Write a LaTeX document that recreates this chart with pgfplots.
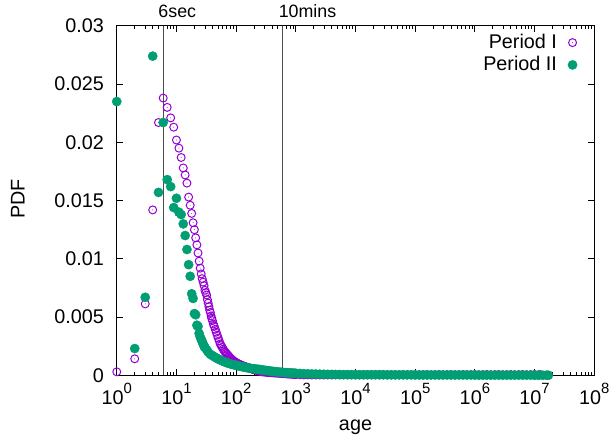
\documentclass[border=0pt]{standalone}
\usepackage{fontspec}
\setmainfont{Liberation Sans}
\usepackage{pgfplots}
\pgfplotsset{compat=1.18}
\definecolor{pI}{HTML}{9400D3}
\definecolor{pII}{HTML}{009E73}
\pgfdeclareplotmark{circdot}{%
  \pgfpathcircle{\pgfpointorigin}{\pgfplotmarksize}\pgfusepathqstroke
  \pgfpathcircle{\pgfpointorigin}{0.5pt}\pgfusepathqfill}
\newcommand\tp[1]{10\raisebox{0.55em}{\fontsize{15}{15}\selectfont #1}}
\begin{document}
\fontsize{20}{24}\selectfont
\begin{tikzpicture}
\begin{axis}[
  scale only axis, width=480.5bp, height=351.7bp,
  xmode=log, xmin=1, xmax=1e8, ymin=0, ymax=0.03,
  clip=false,
  axis line style={line width=0.9bp},
  xtick={1,10,100,1000,10000,100000,1000000,10000000,100000000},
  xticklabels={\tp{0},\tp{1},\tp{2},\tp{3},\tp{4},\tp{5},\tp{6},\tp{7},\tp{8}},
  ytick={0,0.005,0.01,0.015,0.02,0.025,0.03},
  yticklabels={0,0.005,0.01,0.015,0.02,0.025,0.03},
  scaled y ticks=false,
  tick align=inside, major tick length=6bp, minor tick length=3bp,
  tick style={line width=0.8bp, black},
  yticklabel style={xshift=-6bp},
  xticklabel style={yshift=-1bp},
  xlabel={age}, ylabel={PDF},
  xlabel style={at={(axis description cs:0.5,-0.1496)}, anchor=center},
  ylabel style={at={(axis description cs:-0.207,0.505)}, anchor=center},
  legend cell align=right, legend plot pos=right,
  legend style={at={(1,1)}, anchor=north east, draw=none, fill=none,
    xshift=-14bp, yshift=-4bp, row sep=1bp,
    /tikz/every odd column/.append style={column sep=9bp}},
]
\coordinate (bl) at (rel axis cs:0,0);
\coordinate (tr) at (rel axis cs:1,1);
\addplot[black!70, line width=0.8bp, forget plot] coordinates {(6,0) (6,0.03)};
\addplot[black!70, line width=0.8bp, forget plot] coordinates {(600,0) (600,0.03)};
\node[anchor=base west, font=\fontsize{18}{20}\selectfont, inner sep=0pt] at (axis cs:6,0.03) [xshift=-5bp, yshift=8bp] {6sec};
\node[anchor=base west, font=\fontsize{18}{20}\selectfont, inner sep=0pt] at (axis cs:600,0.03) [xshift=-4bp, yshift=8bp] {10mins};

\addplot[only marks, mark=circdot, mark size=4bp, color=pI, line width=1bp] coordinates {
(1,0.0003) (2,0.00142) (3,0.00613) (4,0.0142) (5,0.0217) (6,0.0238) (7,0.0230) (8,0.0221) (9,0.0213) (10,0.0202)
(11,0.0195) (12,0.0187) (13,0.0178) (14,0.0172) (15,0.0165) (16,0.0153) (17,0.0146) (18,0.0139) (19,0.0131) (20,0.0125)
(21,0.0118) (22,0.0112) (23,0.0105) (24,0.0098) (25,0.0092) (26,0.0087) (27,0.0083) (28,0.0080) (29,0.0077) (30,0.0073)
(31,0.0071) (32,0.0069) (33,0.0065) (34,0.0062) (35,0.0059) (36,0.0056) (37,0.0054) (38,0.0051) (39,0.0049) (40,0.0047)
(41.5,0.0044) (43,0.0042) (44.7,0.00395) (46.4,0.0037) (48.2,0.00345) (50.1,0.0032) (52.1,0.00295) (54.1,0.0027) (56.2,0.00255) (58.4,0.0024)
(60.7,0.00225) (63.1,0.0021) (65.6,0.002) (68.1,0.0019) (70.8,0.0018) (73.6,0.0017) (76.4,0.0016) (79.4,0.0015) (82.5,0.00142) (85.8,0.00135)
(89.1,0.00127) (92.6,0.0012) (96.2,0.00115) (100,0.0011) (103.9,0.00105) (108,0.0010) (112.2,0.00096) (116.6,0.00092) (121.2,0.00088) (125.9,0.00085)
(130.9,0.00081) (135.9,0.00078) (141.3,0.00075) (146.8,0.00072) (152.6,0.00069) (158.5,0.00066) (164.8,0.00063) (171.1,0.0006) (177.8,0.00057) (184.8,0.00054)
(192,0.00051) (199.5,0.00048) (215.4,0.00043) (232.6,0.00038) (251.2,0.00033) (271.2,0.0003) (292.9,0.00028) (316.2,0.00026) (341.5,0.00024) (368.7,0.00023) (398.1,0.00022)
(429.9,0.0002) (464.2,0.00019) (501.2,0.00018) (541.2,0.00016) (584.3,0.00015) (631,0.00014) (681.3,0.00013) (735.6,0.00011) (794.3,0.0001) (857.7,0.00009)
(926.1,0.00007) (1000,0.00006)
(1166,0.00005) (1359,0.00004) (1585,0.00004) (1848,0.00003) (2154,0.00003) (2512,0.00003) (2929,0.00003) (3415,0.00003) (3981,0.00003) (4642,0.00004)
(5412,0.00004) (6310,0.00004) (7356,0.00004) (8577,0.00004)
(10000,0.00005) (11660,0.00005) (13590,0.00005) (15850,0.00006) (18480,0.00005) (21540,0.00005) (25120,0.00006) (29290,0.00005) (34150,0.00005) (39810,0.00006)
(46420,0.00005) (54120,0.00005) (63100,0.00006) (73560,0.00005) (85770,0.00005)
(100000,0.00006) (116600,0.00005) (135900,0.00006) (158500,0.00007) (184800,0.00005) (215400,0.00006) (251200,0.00007) (292900,0.00005) (341500,0.00006) (398100,0.00007)
(464200,0.00005) (541200,0.00006) (631000,0.00007) (735600,0.00005) (857700,0.00006)
(1000000,0.00007) (1166000,0.00005) (1359000,0.00006) (1585000,0.00007) (1848000,0.00005) (2154000,0.00006) (2512000,0.00007) (2929000,0.00005) (3415000,0.00006) (3981000,0.00007)
(4642000,0.00005) (5412000,0.00006) (6310000,0.00007) (7356000,0.00005) (8577000,0.00006)
(10000000,0.00007) (11660000,0.00005) (12400000,0.00006)
};
\addlegendentry{Period I}

\addplot[only marks, mark=*, mark size=4.65bp, color=pII, mark options={draw=none, fill=pII}] coordinates {
(1,0.0235) (2,0.0023) (3,0.0067) (4,0.0274) (5,0.0157) (6,0.0217) (7,0.0168) (8,0.0162) (9,0.0144) (10,0.0152)
(11,0.0140) (12,0.0138) (13,0.0130) (14,0.0120) (15,0.0108) (16,0.0095) (17,0.0085) (18,0.0070) (19,0.0066) (20,0.0053)
(21,0.0052) (22,0.0043) (23,0.0042) (24,0.0036) (25,0.0033) (26,0.0031) (27,0.0029) (28,0.0027) (29,0.0025) (30,0.0024)
(32,0.0022) (34,0.0020) (37,0.0018) (40,0.0017)
(43,0.0016) (46.4,0.0015) (50.1,0.0014) (54.1,0.00132) (58.4,0.00124) (63.1,0.00117) (68.1,0.0011) (73.6,0.00104) (79.4,0.00099) (85.8,0.00094)
(92.6,0.0009) (100,0.00086) (108,0.00082) (116.6,0.00078) (125.9,0.00074) (135.9,0.0007) (146.8,0.00067) (158.5,0.00064) (171.1,0.00061) (184.8,0.00058)
(199.5,0.00056) (215.4,0.00054) (232.6,0.00052) (251.2,0.0005) (271.2,0.00047) (292.9,0.00044) (316.2,0.00042) (341.5,0.0004) (368.7,0.00037) (398.1,0.00035)
(429.9,0.00033) (464.2,0.00031) (501.2,0.00029) (541.2,0.00027) (584.3,0.00026) (631,0.00024) (681.3,0.00023) (735.6,0.00022) (794.3,0.00021) (857.7,0.0002)
(926.1,0.00019) (1000,0.00018)
(1166,0.00016) (1359,0.00014) (1585,0.00013) (1848,0.00012) (2154,0.00011) (2512,0.0001) (2929,0.00009) (3415,0.00008) (3981,0.00008) (4642,0.00007)
(5412,0.00007) (6310,0.00006) (7356,0.00006) (8577,0.00006)
(10000,0.00005) (11660,0.00005) (13590,0.00005) (15850,0.00005) (18480,0.00005) (21540,0.00005) (25120,0.00005) (29290,0.00005) (34150,0.00004) (39810,0.00004)
(46420,0.00004) (54120,0.00004) (63100,0.00004) (73560,0.00004) (85770,0.00004)
(100000,0.00003) (116600,0.00003) (135900,0.00003) (158500,0.00003) (184800,0.00003) (215400,0.00003) (251200,0.00003) (292900,0.00003) (341500,0.00003) (398100,0.00003)
(464200,0.00003) (541200,0.00003) (631000,0.00003) (735600,0.00003) (857700,0.00003)
(1000000,0.00002) (1166000,0.00002) (1359000,0.00002) (1585000,0.00002) (1848000,0.00002) (2154000,0.00002) (2512000,0.00002) (2929000,0.00002) (3415000,0.00002) (3981000,0.00002)
(4642000,0.00002) (5412000,0.00002) (6310000,0.00002) (7356000,0.00002) (8577000,0.00002)
(10000000,0.00001) (11660000,0.00001) (13590000,0.00001) (15850000,0.00001) (17000000,0.00001)
};
\addlegendentry{Period II}
\end{axis}
\path ([shift={(-117.5bp,-69.3bp)}]bl) rectangle ([shift={(18bp,26bp)}]tr);
\end{tikzpicture}
\end{document}
